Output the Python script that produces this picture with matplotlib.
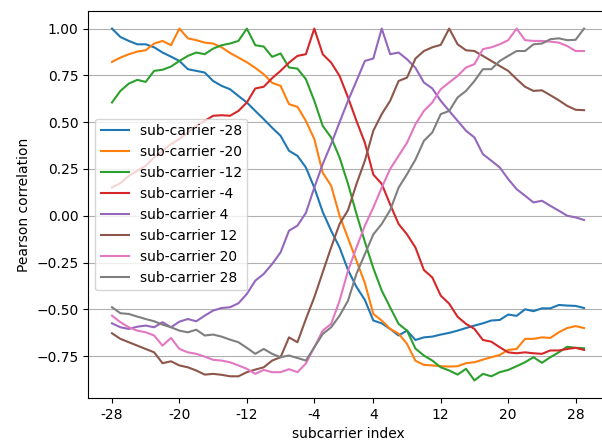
import matplotlib
matplotlib.use('Agg')
import matplotlib.pyplot as plt
import numpy as np

# 各子載波與其他子載波的 Pearson 相關係數（57 點）
labels = ['sub-carrier -28', 'sub-carrier -20', 'sub-carrier -12', 'sub-carrier -4',
          'sub-carrier 4', 'sub-carrier 12', 'sub-carrier 20', 'sub-carrier 28']

sc_m28 = [1.0, 0.955, 0.934, 0.916, 0.916, 0.9, 0.872, 0.85, 0.827, 0.783,
          0.774, 0.765, 0.72, 0.694, 0.676, 0.64, 0.605, 0.56, 0.516, 0.47,
          0.427, 0.347, 0.32, 0.258, 0.15, 0.02, -0.08, -0.17, -0.29, -0.38,
          -0.45, -0.56, -0.575, -0.605, -0.64, -0.614, -0.664, -0.65, -0.646, -0.635,
          -0.626, -0.614, -0.6, -0.587, -0.575, -0.56, -0.557, -0.528, -0.535, -0.5,
          -0.51, -0.495, -0.495, -0.477, -0.48, -0.482, -0.493]
sc_m20 = [0.822, 0.845, 0.863, 0.877, 0.884, 0.92, 0.934, 0.911, 1.0, 0.948,
          0.938, 0.925, 0.92, 0.9, 0.87, 0.845, 0.82, 0.79, 0.756, 0.71,
          0.694, 0.596, 0.582, 0.507, 0.41, 0.23, 0.16, 0.0, -0.12, -0.24,
          -0.36, -0.525, -0.56, -0.605, -0.63, -0.685, -0.775, -0.797, -0.8, -0.804,
          -0.806, -0.804, -0.788, -0.783, -0.769, -0.756, -0.744, -0.717, -0.712, -0.658,
          -0.658, -0.65, -0.653, -0.623, -0.6, -0.59, -0.6]
sc_m12 = [0.605, 0.667, 0.706, 0.726, 0.715, 0.774, 0.78, 0.797, 0.827, 0.854,
          0.872, 0.863, 0.893, 0.911, 0.92, 0.934, 1.0, 0.911, 0.904, 0.849,
          0.867, 0.792, 0.786, 0.73, 0.614, 0.48, 0.418, 0.311, 0.17, 0.01,
          -0.14, -0.28, -0.4, -0.49, -0.578, -0.614, -0.71, -0.747, -0.774, -0.81,
          -0.827, -0.849, -0.818, -0.88, -0.845, -0.858, -0.836, -0.824, -0.804, -0.783,
          -0.756, -0.786, -0.756, -0.73, -0.7, -0.706, -0.708]
sc_m4 = [0.151, 0.174, 0.213, 0.24, 0.267, 0.311, 0.347, 0.383, 0.41, 0.445,
         0.48, 0.507, 0.534, 0.537, 0.534, 0.56, 0.605, 0.68, 0.689, 0.735,
         0.774, 0.818, 0.854, 0.863, 1.0, 0.863, 0.818, 0.747, 0.632, 0.507,
         0.39, 0.22, 0.17, 0.06, -0.044, -0.1, -0.17, -0.29, -0.33, -0.427,
         -0.47, -0.54, -0.578, -0.605, -0.664, -0.673, -0.703, -0.73, -0.735, -0.73,
         -0.735, -0.738, -0.72, -0.72, -0.712, -0.706, -0.717]
sc_4 = [-0.575, -0.596, -0.605, -0.593, -0.587, -0.596, -0.569, -0.596, -0.566, -0.552,
        -0.564, -0.534, -0.507, -0.493, -0.489, -0.468, -0.418, -0.347, -0.311, -0.258,
        -0.196, -0.08, -0.053, 0.015, 0.15, 0.276, 0.383, 0.5, 0.614, 0.72,
        0.827, 0.84, 1.0, 0.863, 0.872, 0.836, 0.79, 0.712, 0.68, 0.614,
        0.56, 0.507, 0.454, 0.418, 0.329, 0.294, 0.258, 0.196, 0.142, 0.107,
        0.071, 0.08, 0.053, 0.027, 0.0, -0.009, -0.023]
sc_12 = [-0.628, -0.658, -0.676, -0.694, -0.712, -0.73, -0.788, -0.778, -0.8, -0.81,
         -0.827, -0.849, -0.845, -0.85, -0.858, -0.858, -0.836, -0.822, -0.81, -0.774,
         -0.756, -0.65, -0.676, -0.552, -0.436, -0.302, -0.169, -0.044, 0.03, 0.169,
         0.294, 0.454, 0.543, 0.614, 0.72, 0.738, 0.84, 0.88, 0.9, 0.913,
         1.0, 0.916, 0.884, 0.88, 0.854, 0.827, 0.8, 0.774, 0.73, 0.689,
         0.667, 0.67, 0.644, 0.617, 0.587, 0.566, 0.564]
sc_20 = [-0.534, -0.569, -0.596, -0.614, -0.623, -0.64, -0.694, -0.653, -0.712, -0.73,
         -0.738, -0.753, -0.77, -0.774, -0.783, -0.8, -0.818, -0.845, -0.824, -0.836,
         -0.836, -0.82, -0.836, -0.79, -0.703, -0.614, -0.578, -0.454, -0.294, -0.17,
         -0.053, 0.044, 0.15, 0.25, 0.32, 0.39, 0.489, 0.56, 0.605, 0.676,
         0.712, 0.747, 0.792, 0.81, 0.89, 0.9, 0.916, 0.938, 1.0, 0.938,
         0.934, 0.934, 0.93, 0.925, 0.907, 0.88, 0.88]
sc_28 = [-0.489, -0.521, -0.525, -0.539, -0.552, -0.564, -0.582, -0.596, -0.614, -0.623,
         -0.609, -0.64, -0.635, -0.646, -0.662, -0.676, -0.706, -0.738, -0.712, -0.738,
         -0.756, -0.747, -0.76, -0.774, -0.703, -0.632, -0.596, -0.534, -0.454, -0.31,
         -0.205, -0.1, -0.044, 0.03, 0.15, 0.222, 0.3, 0.4, 0.445, 0.543,
         0.56, 0.632, 0.667, 0.72, 0.783, 0.783, 0.827, 0.854, 0.88, 0.88,
         0.916, 0.92, 0.943, 0.948, 0.938, 0.94, 1.0]

series = [sc_m28, sc_m20, sc_m12, sc_m4, sc_4, sc_12, sc_20, sc_28]

tick_pos = [0, 8, 16, 24, 31, 39, 47, 55]
tick_labels = ['-28', '-20', '-12', '-4', '4', '12', '20', '28']

fig = plt.figure(figsize=(6.02, 4.41), dpi=100)
ax = fig.add_axes([0.1468, 0.0975, 0.8626, 0.8776])

x = np.arange(len(sc_m28))
for vals, lab in zip(series, labels):
    ax.plot(x, vals, label=lab)

ax.set_xticks(tick_pos)
ax.set_xticklabels(tick_labels)
ax.set_xlabel('subcarrier index')
ax.set_ylabel('Pearson correlation')
ax.grid(True, axis='y')
ax.legend(loc='center left')

plt.savefig('out.png', dpi=100)
plt.close()
